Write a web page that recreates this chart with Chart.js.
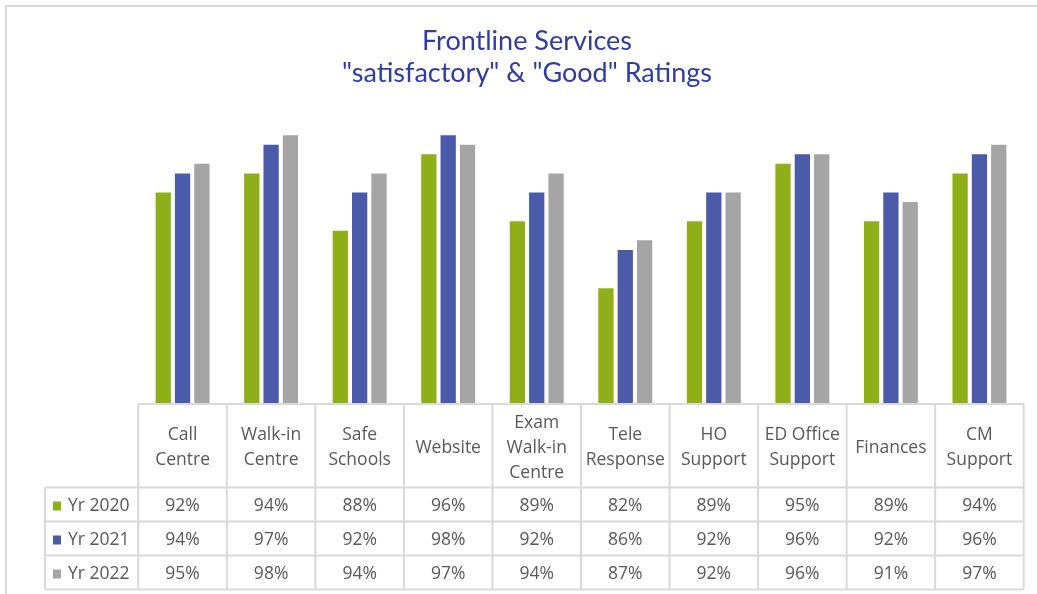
<!DOCTYPE html>
<html>
<head>
<meta charset="utf-8">
<script src="https://cdn.jsdelivr.net/npm/chart.js@4"></script>
<style>
  html, body { margin: 0; padding: 0; background: #ffffff; }
  #wrap { position: relative; width: 1037px; height: 594px; }
  canvas { display: block; }
</style>
</head>
<body>
<div id="wrap"><canvas id="c" width="1037" height="594"></canvas></div>
<script>
// ---- data ----
const categories = [
  ["Call", "Centre"],
  ["Walk-in", "Centre"],
  ["Safe", "Schools"],
  ["Website"],
  ["Exam", "Walk-in", "Centre"],
  ["Tele", "Response"],
  ["HO", "Support"],
  ["ED Office", "Support"],
  ["Finances"],
  ["CM", "Support"]
];
const seriesNames = ["Yr 2020", "Yr 2021", "Yr 2022"];
const yr2020 = [92, 94, 88, 96, 89, 82, 89, 95, 89, 94];
const yr2021 = [94, 97, 92, 98, 92, 86, 92, 96, 92, 96];
const yr2022 = [95, 98, 94, 97, 94, 87, 92, 96, 91, 97];
const titleLines = ["Frontline Services", "\"satisfactory\" & \"Good\" Ratings"];
const seriesColors = ["#8FAF18", "#4B5AA9", "#A5A5A5"];

const TEXT = "#595959";
const GRID = "#D9D9D9";
const FONT = "'Open Sans', 'Liberation Sans', sans-serif";

const tablePlugin = {
  id: "dataTable",
  beforeDraw(chart) {
    const ctx = chart.ctx;
    ctx.save();
    ctx.fillStyle = "#ffffff";
    ctx.fillRect(0, 0, chart.width, chart.height);
    // outer frame (left and top edges)
    ctx.strokeStyle = GRID;
    ctx.lineWidth = 2;
    ctx.beginPath();
    ctx.moveTo(6, chart.height);
    ctx.lineTo(6, 6);
    ctx.lineTo(chart.width, 6);
    ctx.stroke();
    // title
    ctx.fillStyle = "#2F3E9E";
    ctx.font = "27px Lato, 'Open Sans', sans-serif";
    ctx.textAlign = "center";
    ctx.textBaseline = "alphabetic";
    ctx.fillText(titleLines[0], 527, 49.5);
    ctx.fillText(titleLines[1], 527, 81.5);
    ctx.restore();
  },
  afterDraw(chart) {
    const ctx = chart.ctx;
    const x = chart.scales.x;
    const area = chart.chartArea;
    const n = categories.length;
    const colW = (area.right - area.left) / n;
    const top = area.bottom + 1;
    const headerH = 83.5;
    const rowH = 34;
    const labelLeft = 45;
    const rowsTop = top + headerH;
    const bottom = rowsTop + rowH * seriesNames.length;

    ctx.save();
    ctx.strokeStyle = GRID;
    ctx.lineWidth = 2;
    ctx.beginPath();
    ctx.moveTo(area.left, top); ctx.lineTo(area.right, top);
    for (let r = 0; r <= seriesNames.length; r++) {
      const y = rowsTop + r * rowH;
      ctx.moveTo(labelLeft, y); ctx.lineTo(area.right, y);
    }
    for (let i = 0; i <= n; i++) {
      const xx = area.left + i * colW;
      ctx.moveTo(xx, top); ctx.lineTo(xx, bottom);
    }
    ctx.moveTo(labelLeft, rowsTop); ctx.lineTo(labelLeft, bottom);
    ctx.stroke();

    ctx.fillStyle = TEXT;
    ctx.font = "17.5px " + FONT;
    ctx.textAlign = "center";
    ctx.textBaseline = "middle";
    const lh = 25;
    categories.forEach((lines, i) => {
      const cx = x.getPixelForValue(i);
      const cy = top + headerH / 2 + 2;
      const startY = cy - (lines.length - 1) * lh / 2;
      lines.forEach((t, k) => ctx.fillText(t, cx, startY + k * lh));
    });

    const allSeries = [yr2020, yr2021, yr2022];
    allSeries.forEach((vals, r) => {
      const cy = rowsTop + r * rowH + rowH / 2 + 2;
      vals.forEach((v, i) => {
        ctx.fillText(v + "%", x.getPixelForValue(i), cy);
      });
      ctx.fillStyle = seriesColors[r];
      ctx.fillRect(53, cy - 5, 8, 9);
      ctx.fillStyle = TEXT;
      ctx.textAlign = "left";
      ctx.fillText(seriesNames[r], 68, cy);
      ctx.textAlign = "center";
    });
    ctx.restore();
  }
};

new Chart(document.getElementById("c"), {
  type: "bar",
  data: {
    labels: categories.map(c => c.join(" ")),
    datasets: [
      { label: seriesNames[0], data: yr2020, backgroundColor: seriesColors[0] },
      { label: seriesNames[1], data: yr2021, backgroundColor: seriesColors[1] },
      { label: seriesNames[2], data: yr2022, backgroundColor: seriesColors[2] }
    ]
  },
  options: {
    responsive: false,
    animation: false,
    devicePixelRatio: 1,
    layout: { padding: { left: 138.3, right: 13.3, top: 116, bottom: 191 } },
    datasets: { bar: { categoryPercentage: 0.655, barPercentage: 0.79 } },
    scales: {
      x: { display: false },
      y: { display: false, min: 70, max: 100 }
    },
    plugins: {
      legend: { display: false },
      tooltip: { enabled: false },
      title: { display: false }
    }
  },
  plugins: [tablePlugin]
});
</script>
</body>
</html>
